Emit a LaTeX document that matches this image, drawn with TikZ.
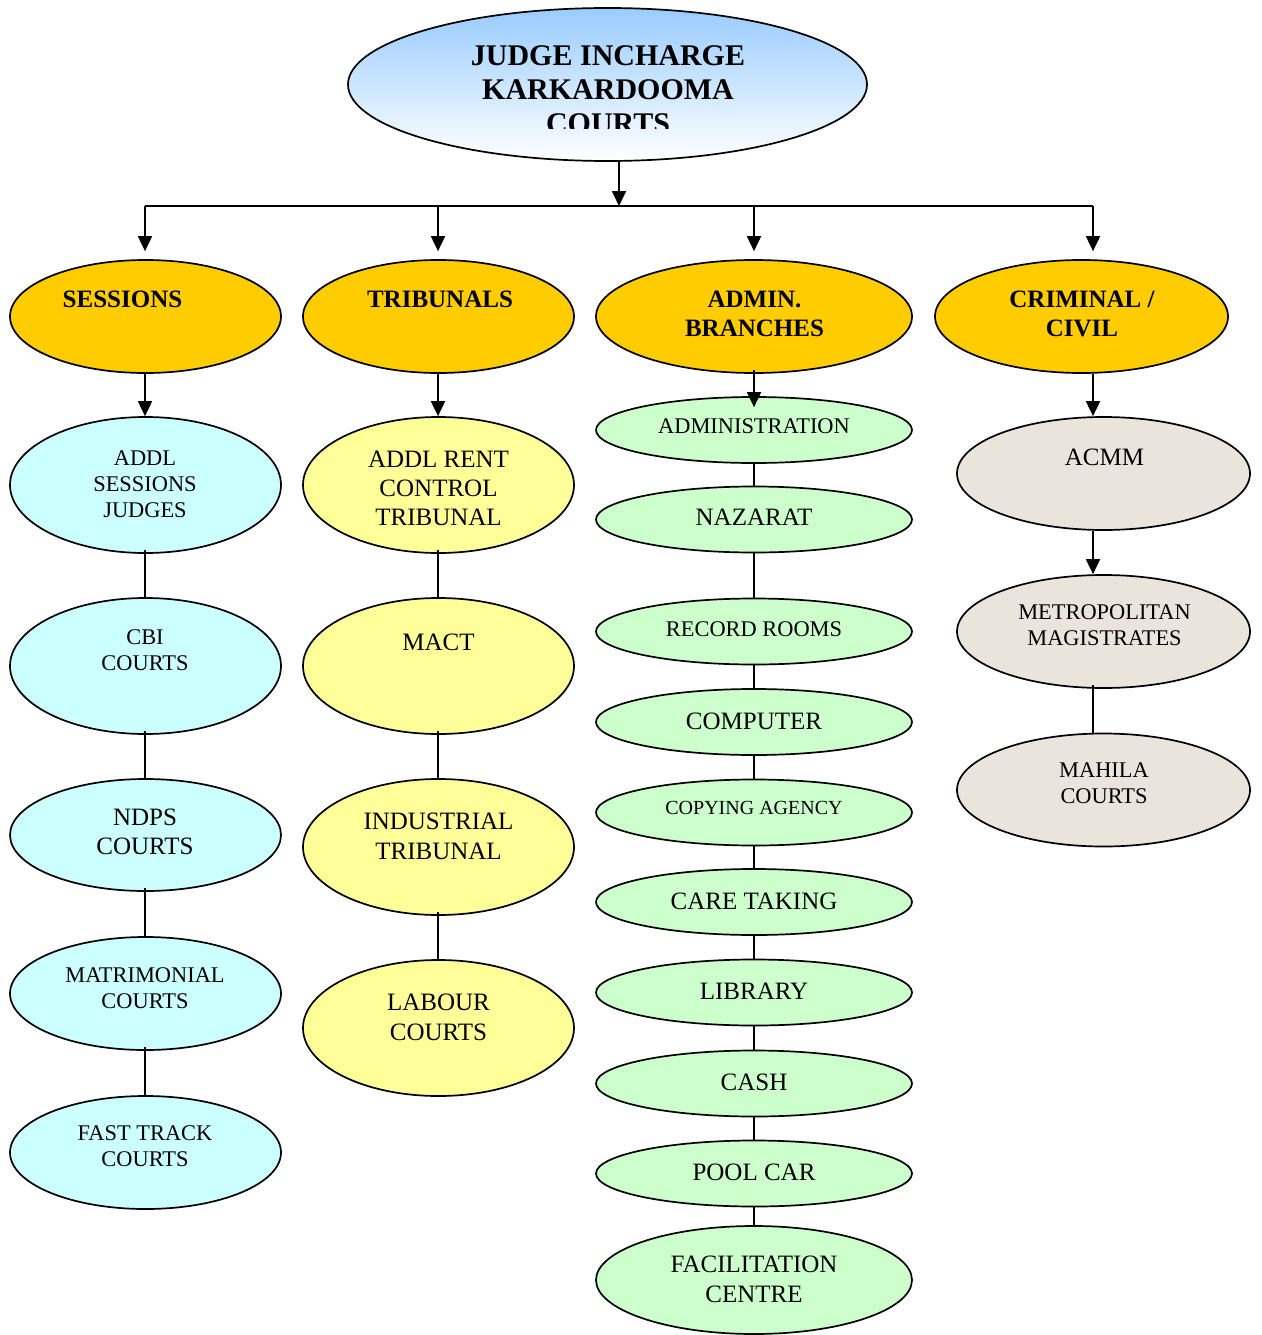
\documentclass[tikz,border=0pt]{standalone}
\usepackage{fontspec}
\setmainfont{Liberation Serif}
\usetikzlibrary{shapes.geometric,arrows.meta}
\definecolor{orng}{HTML}{FFCC00}
\definecolor{cyn}{HTML}{CCFFFF}
\definecolor{ylw}{HTML}{FFFF99}
\definecolor{grn}{HTML}{CCFFCC}
\definecolor{bge}{HTML}{EAE4DD}
\definecolor{tblue}{HTML}{99CCFF}
\begin{document}
\begin{tikzpicture}[x=1pt,y=-1pt,
  el/.style={ellipse, draw=black, line width=1.7pt, inner sep=0pt},
  txt/.style={anchor=north, inner sep=0pt, align=center},
  big/.style={font=\fontsize{25}{29}\selectfont},
  bigw/.style={font=\fontsize{25}{30}\selectfont},
  sml/.style={font=\fontsize{22.4}{26}\selectfont},
  tiny/.style={font=\fontsize{20}{24}\selectfont},
  hdr/.style={font=\bfseries\fontsize{25}{29}\selectfont},
  ttl/.style={font=\bfseries\fontsize{30}{34}\selectfont},
  arr/.style={-{Triangle[length=15pt,width=14pt]}, line width=1.8pt},
  lnk/.style={line width=1.8pt},
  lvA/.style={el, fill=orng, minimum height=113pt},
  colS/.style={el, fill=cyn, minimum width=271pt},
  colT/.style={el, fill=ylw, minimum width=271pt, minimum height=136pt},
  colA/.style={el, fill=grn, minimum width=316pt, minimum height=66pt},
  colC/.style={el, fill=bge, minimum width=293pt, minimum height=113pt}
]
\useasboundingbox (0,0) rectangle (1261,1335);

% title
\node[el, top color=tblue, bottom color=white, minimum width=519pt, minimum height=153pt] (title) at (607.5,84.5) {};
\begin{scope}
\clip (348,0) rectangle (867,129);
\node[txt,ttl] (title-t) at (608,45) {JUDGE INCHARGE\\KARKARDOOMA\\COURTS};
\end{scope}

% level 1
\node[lvA, minimum width=271pt] (sess) at (145.5,316.5) {};
\node[lvA, minimum width=271pt] (trib) at (438.5,316.5) {};
\node[lvA, minimum width=316pt] (admn) at (754,316.5) {};
\node[lvA, minimum width=293pt] (crim) at (1081.5,316.5) {};
\node[txt,hdr] (sess-t) at (122.5,290.5) {SESSIONS};
\node[txt,hdr] (trib-t) at (440,290.5) {TRIBUNALS};
\node[txt,hdr] (admn-t) at (754.5,290.5) {ADMIN.\\BRANCHES};
\node[txt,hdr] (crim-t) at (1082,290.5) {CRIMINAL /\\CIVIL};

% bus
\coordinate (bus) at (619,206);
\coordinate (b1) at (145,206);
\coordinate (b2) at (438,206);
\coordinate (b3) at (754,206);
\coordinate (b4) at (1093,206);
\draw[arr] (title.south -| bus) -- (bus);
\draw[lnk] (b1) -- (b4);
\draw[arr, shorten >=8pt] (b1) -- (b1 |- sess.north);
\draw[arr, shorten >=8pt] (b2) -- (b2 |- trib.north);
\draw[arr, shorten >=8pt] (b3) -- (b3 |- admn.north);
\draw[arr, shorten >=8pt] (b4) -- (b4 |- crim.north);

% column 1
\node[colS, minimum height=136pt] (s1) at (145.5,485) {};
\node[colS, minimum height=136pt] (s2) at (145.5,666) {};
\node[colS, minimum height=112pt] (s3) at (145.5,835) {};
\node[colS, minimum height=113pt] (s4) at (145.5,993.5) {};
\node[colS, minimum height=113pt] (s5) at (145.5,1152.5) {};
\node[txt,sml] (s1-t) at (145,450.6) {ADDL\\SESSIONS\\JUDGES};
\node[txt,sml] (s2-t) at (145,629.6) {CBI\\COURTS};
\node[txt,big] (s3-t) at (145,808.7) {NDPS\\COURTS};
\node[txt,sml] (s4-t) at (145,967.6) {MATRIMONIAL\\COURTS};
\node[txt,sml] (s5-t) at (145,1125.6) {FAST TRACK\\COURTS};
\draw[arr] (sess.south -| b1) -- (s1.north -| b1);
\draw[lnk, shorten <=-4pt] (s1.south -| b1) -- (s2.north -| b1);
\draw[lnk, shorten <=-4pt] (s2.south -| b1) -- (s3.north -| b1);
\draw[lnk, shorten <=-4pt] (s3.south -| b1) -- (s4.north -| b1);
\draw[lnk, shorten <=-4pt] (s4.south -| b1) -- (s5.north -| b1);

% column 2
\node[colT] (t1) at (438.5,485) {};
\node[colT] (t2) at (438.5,666) {};
\node[colT] (t3) at (438.5,847) {};
\node[colT] (t4) at (438.5,1028) {};
\node[txt,big] (t1-t) at (438.5,450.7) {ADDL RENT\\CONTROL\\TRIBUNAL};
\node[txt,big] (t2-t) at (438.5,633.7) {MACT};
\node[txt,bigw] (t3-t) at (438.5,812.7) {INDUSTRIAL\\TRIBUNAL};
\node[txt,bigw] (t4-t) at (438.5,993.7) {LABOUR\\COURTS};
\draw[arr] (trib.south -| b2) -- (t1.north -| b2);
\draw[lnk, shorten <=-4pt] (t1.south -| b2) -- (t2.north -| b2);
\draw[lnk, shorten <=-4pt] (t2.south -| b2) -- (t3.north -| b2);
\draw[lnk, shorten <=-4pt] (t3.south -| b2) -- (t4.north -| b2);

% column 3
\node[colA] (a1) at (754,430) {};
\node[colA] (a2) at (754,519.5) {};
\node[colA] (a3) at (754,631.5) {};
\node[colA] (a4) at (754,722) {};
\node[colA] (a5) at (754,812.5) {};
\node[colA] (a6) at (754,902) {};
\node[colA] (a7) at (754,992.5) {};
\node[colA] (a8) at (754,1083.5) {};
\node[colA] (a9) at (754,1173.5) {};
\node[colA, minimum height=108pt] (a10) at (754,1280) {};
\node[txt,sml] (a1-t) at (754,418.6) {ADMINISTRATION};
\node[txt,big] (a2-t) at (754,508.7) {NAZARAT};
\node[txt,sml] (a3-t) at (754,621.6) {RECORD ROOMS};
\node[txt,big] (a4-t) at (754,712.7) {COMPUTER};
\node[txt,tiny] (a5-t) at (754,801.4) {COPYING AGENCY};
\node[txt,big] (a6-t) at (754,892.7) {CARE TAKING};
\node[txt,big] (a7-t) at (754,982.7) {LIBRARY};
\node[txt,big] (a8-t) at (754,1073.7) {CASH};
\node[txt,big] (a9-t) at (754,1163.7) {POOL CAR};
\node[txt,bigw] (a10-t) at (754,1255.7) {FACILITATION\\CENTRE};
\draw[arr, shorten <=-4pt] (admn.south) -- ([yshift=-11pt]a1.north);
\foreach \i/\j in {1/2,2/3,3/4,4/5,5/6,6/7,7/8,8/9,9/10}
  \draw[lnk] (a\i.south) -- (a\j.north);

% column 4
\node[colC] (c1) at (1103.5,473.5) {};
\node[colC] (c2) at (1103.5,631.5) {};
\node[colC] (c3) at (1103.5,790) {};
\node[txt,big] (c1-t) at (1104.5,448.7) {ACMM};
\node[txt,sml] (c2-t) at (1104.5,604.6) {METROPOLITAN\\MAGISTRATES};
\node[txt,sml] (c3-t) at (1104,762.6) {MAHILA\\COURTS};
\draw[arr] (crim.south -| b4) -- (c1.north -| b4);
\draw[arr] (c1.south -| b4) -- (c2.north -| b4);
\draw[lnk, shorten <=-4pt] (c2.south -| b4) -- (c3.north -| b4);
\end{tikzpicture}
\end{document}
